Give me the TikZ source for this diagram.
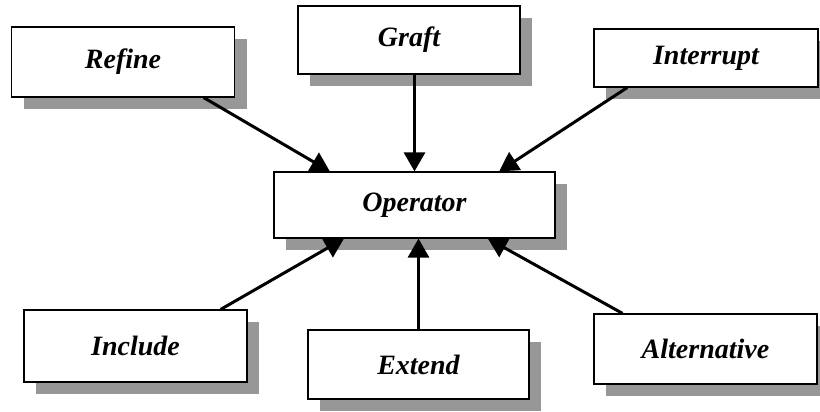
\documentclass[tikz,border=0pt]{standalone}
\usepackage{fontspec}
\setmainfont{Liberation Serif}
\usepackage{tikz}
\usetikzlibrary{positioning, shapes, arrows.meta, calc, shadows}

\definecolor{shadowgray}{HTML}{979797}

\tikzset{
    opbox/.style={draw=black, line width=1.2pt, fill=white, minimum width=223pt,
        minimum height=70pt, inner sep=0pt, font=\fontsize{28}{32}\selectfont\bfseries\itshape,
        drop shadow={shadow xshift=12pt, shadow yshift=-12pt, fill=shadowgray, opacity=1}},
    link/.style={-{Triangle[length=19pt, width=21pt]}, line width=3pt}
}

\begin{document}
\begin{tikzpicture}[x=1pt, y=-1pt]
            \useasboundingbox (0,0) rectangle (820,412);

            % outer boxes
            \node (refine) at (123, 62) [opbox] {Refine};
            \node (graft) at (409, 40) [opbox, minimum width=222pt, minimum height=68pt] {Graft};
            \node (interrupt) at (706, 58) [opbox, minimum width=224pt, minimum height=58pt] {Interrupt};
            \node (include) at (135.5, 346) [opbox, minimum height=72pt] {Include};
            \node (extend) at (418.5, 364.5) [opbox, minimum width=221pt, minimum height=69pt] {Extend};
            \node (alternative) at (705.5, 349) [opbox] {Alternative};

            % central box
            \node (operator) at (414.5, 205) [opbox, minimum width=281pt, minimum height=66pt] {Operator};

            % arrows into the operator
            \draw[link] ($(refine.south west)!0.86!(refine.south east)$) -- ($(operator.north west)!0.2!(operator.north east)$);
            \draw[link] (graft.south -| operator.north) -- (operator.north);
            \draw[link] ($(interrupt.south west)!0.15!(interrupt.south east)$) -- ($(operator.north west)!0.8!(operator.north east)$);
            \draw[link] ($(include.north west)!0.88!(include.north east)$) -- ($(operator.south west)!0.25!(operator.south east)$);
            \draw[link] (extend.north) -- (extend.north |- operator.south);
            \draw[link] ($(alternative.north west)!0.13!(alternative.north east)$) -- ($(operator.south west)!0.76!(operator.south east)$);

        \end{tikzpicture}
\end{document}
